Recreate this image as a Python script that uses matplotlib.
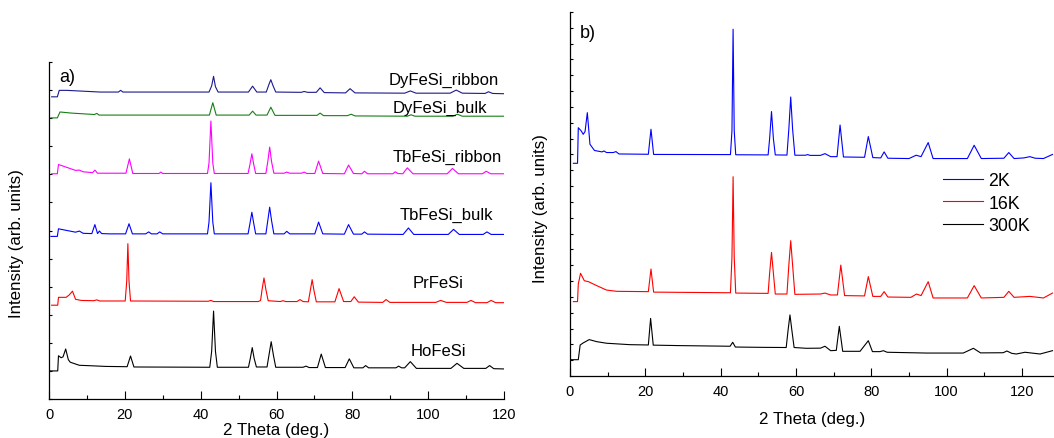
import matplotlib
matplotlib.use("Agg")
import matplotlib.pyplot as plt
from matplotlib.ticker import MultipleLocator
import numpy as np

plt.rcParams['font.family'] = ['Liberation Sans', 'DejaVu Sans']

# %% Data, (2theta, stacked intensity)
dy_ribbon = [(0.7, 10.76), (2.2, 10.76), (2.7, 10.99), (4.7, 10.99), (13.5, 10.93), (18.3, 10.93), (18.9, 10.99),
             (19.5, 10.93), (30, 10.93), (42.2, 10.93), (42.9, 11.15), (43.4, 11.49), (43.9, 11.12), (44.6, 10.93),
             (52.6, 10.93), (53.7, 11.14), (54.8, 10.93), (57.3, 10.93), (58.0, 11.2), (58.5, 11.37), (59.1, 11.15),
             (59.8, 10.93), (66.5, 10.92), (67.3, 10.95), (68.2, 10.92),
             (70.5, 10.92), (71.5, 11.08), (72.6, 10.91), (78.2, 10.90), (79.4, 11.05), (80.7, 10.90), (93.8, 10.89),
             (95.3, 10.97), (96.8, 10.89), (105.8, 10.89), (107.4, 11.00), (109.0, 10.89), (115.0, 10.88),
             (115.9, 10.94), (117.0, 10.88), (120, 10.87)]

dy_bulk = [(0.5, 10.01), (2.2, 10.01), (2.9, 10.22), (6, 10.18), (12, 10.13), (12.6, 10.17), (13.2, 10.11),
           (42.3, 10.11), (43.2, 10.55), (44.1, 10.11), (52.8, 10.11), (53.7, 10.25), (54.6, 10.11), (57.5, 10.11),
           (58.5, 10.39), (59.6, 10.10), (70.7, 10.10), (71.5, 10.18), (72.4, 10.09), (78.7, 10.09), (79.7, 10.14),
           (80.7, 10.08), (94.5, 10.07), (95.5, 10.12), (96.5, 10.07), (106.5, 10.07), (107.7, 10.14),
           (109, 10.07), (120, 10.07)]

tb_ribbon = [(0.7, 8.02), (2.2, 8.02), (2.5, 8.35), (7.0, 8.14), (8.0, 8.15), (9.0, 8.09), (11.5, 8.06), (12.1, 8.15),
             (12.8, 8.04), (20.3, 8.04), (21.2, 8.55), (22.1, 8.03), (29, 8.03), (29.5, 8.08), (30, 8.03), (41.8, 8.03),
             (42.2, 8.4), (42.7, 9.90), (43.2, 8.4), (43.6, 8.03), (52.5, 8.03), (53.0, 8.35), (53.5, 8.73),
             (54.0, 8.35), (54.5, 8.03), (57.2, 8.03), (57.7, 8.45), (58.2, 8.97), (58.7, 8.45),
             (59.3, 8.04), (62.0, 8.04), (62.7, 8.08), (63.5, 8.04), (66.6, 8.04), (67.3, 8.08), (68, 8.03),
             (70.1, 8.03), (71.1, 8.47), (72.2, 8.03), (77.9, 8.02), (79.0, 8.33), (80.3, 8.03), (82.5, 8.02),
             (83.2, 8.11), (84.0, 8.02), (90.7, 8.02), (91.3, 8.09), (92.0, 8.03), (93.3, 8.02), (94.5, 8.23),
             (96.0, 8.02), (105.0, 8.02), (106.4, 8.21), (108.0, 8.02), (114.3, 8.02), (115.3, 8.11), (116.5, 8.02),
             (120, 8.02)]

tb_bulk = [(0.5, 5.79), (2.2, 5.79), (2.5, 6.06), (7.0, 5.94), (8.0, 5.98), (9.0, 5.90), (11.3, 5.89), (12.1, 6.21),
           (12.8, 5.89), (13.3, 5.98), (13.9, 5.89), (16, 5.88), (20.2, 5.88), (21.1, 6.24), (22.0, 5.88),
           (25.5, 5.88), (26.3, 5.95), (27, 5.88), (28.5, 5.88), (29.2, 5.95), (30, 5.88), (41.8, 5.88),
           (42.2, 6.3), (42.7, 7.70), (43.2, 6.3), (43.6, 5.88), (52.5, 5.88), (53.0, 6.25), (53.5, 6.65),
           (54.0, 6.25), (54.5, 5.88), (57.2, 5.88), (57.7, 6.35), (58.2, 6.83), (58.7, 6.35),
           (59.3, 5.88), (62.0, 5.88), (62.7, 5.97), (63.5, 5.88), (70.1, 5.88), (71.1, 6.30), (72.2, 5.88),
           (77.9, 5.87), (79.0, 6.21), (80.3, 5.87), (82.5, 5.87), (83.2, 5.95), (84.0, 5.87), (93.4, 5.86),
           (94.8, 6.09), (96.2, 5.86), (105.3, 5.86), (106.7, 6.04), (108.2, 5.86), (114.5, 5.86), (115.5, 5.95),
           (116.6, 5.86), (120, 5.86)]

pr = [(0.7, 3.34), (2.3, 3.34), (2.5, 3.62), (4.5, 3.62), (5.3, 3.70), (6.2, 3.84), (7.0, 3.55), (8.5, 3.51),
      (11.8, 3.50), (12.6, 3.53), (13.4, 3.49), (20.1, 3.49), (20.5, 4.2), (20.8, 5.53), (21.1, 4.2), (21.5, 3.49),
      (42, 3.48), (42.7, 3.51), (43.4, 3.47), (55.2, 3.47), (55.8, 3.51), (56.2, 3.9), (56.7, 4.31), (57.2, 3.9),
      (57.8, 3.50), (61, 3.47), (61.7, 3.50), (62.4, 3.47),
      (65.4, 3.47), (66.2, 3.54), (67.0, 3.47), (68.4, 3.46), (68.9, 3.85), (69.4, 4.25), (69.9, 3.85),
      (70.5, 3.46), (75.4, 3.46), (76.5, 3.93), (77.7, 3.47), (79.6, 3.47), (80.5, 3.64), (81.6, 3.45), (88.0, 3.44),
      (88.9, 3.54), (89.9, 3.44), (102, 3.44),
      (103.3, 3.51), (104.8, 3.44), (110.2, 3.44), (111.3, 3.51), (112.5, 3.43), (115.5, 3.43), (116.6, 3.51),
      (117.8, 3.43), (120, 3.43)]

ho = [(0.3, 1.0), (2.3, 1.0), (2.5, 1.54), (3.2, 1.47), (3.7, 1.50), (4.4, 1.78), (5.1, 1.40), (5.6, 1.31), (8, 1.20),
      (10, 1.19), (15, 1.16), (20.6, 1.15), (21.5, 1.53), (22.4, 1.14), (42.4, 1.13), (42.9, 1.7), (43.4, 3.13),
      (43.9, 1.7), (44.4, 1.13), (52.6, 1.13), (53.1, 1.45), (53.6, 1.83), (54.1, 1.45), (54.7, 1.14), (57.5, 1.14),
      (58.0, 1.55), (58.6, 2.04), (59.2, 1.55), (59.8, 1.13), (67, 1.13), (67.8, 1.17),
      (68.6, 1.12), (70.8, 1.12), (71.8, 1.60), (72.9, 1.12), (78.1, 1.12), (79.2, 1.43), (80.4, 1.11), (82.8, 1.11),
      (83.5, 1.19), (84.3, 1.11), (91.5, 1.11), (92.2, 1.17), (93, 1.11), (93.8, 1.11), (95.3, 1.33), (96.9, 1.09),
      (106.0, 1.09), (107.6, 1.27), (109.4, 1.09), (115.2, 1.09), (116.2, 1.19), (117.3, 1.08), (120, 1.07)]

t2K = [(0.9, 13.44), (2.0, 13.44), (2.2, 15.69), (3.0, 15.48), (3.5, 15.27), (4.0, 15.45), (4.6, 16.64), (5.3, 14.64),
       (6.5, 14.25), (8.5, 14.16), (9.0, 14.22), (9.7, 14.12), (11.5, 14.12), (12.2, 14.18), (13, 14.03), (20.8, 14.01),
       (21.5, 15.59), (22.2, 14.0), (42.6, 13.99), (43.0, 15.5), (43.3, 21.91), (43.6, 15.5), (44.0, 13.98),
       (52.6, 13.97), (53.0, 15.0), (53.5, 16.71), (54.0, 15.0), (54.5, 13.97), (57.6, 13.96), (58.1, 15.6),
       (58.6, 17.63), (59.1, 15.6), (59.7, 13.95), (62.5, 13.95), (63.1, 13.99), (63.7, 13.94),
       (66.5, 13.94), (67.7, 14.05), (69.2, 13.86), (70.9, 13.86), (71.7, 15.86), (72.6, 13.84), (78.2, 13.82),
       (79.2, 15.13), (80.4, 13.8), (82.5, 13.78), (83.4, 14.16), (84.4, 13.76), (90, 13.74), (91.9, 13.95),
       (93.2, 13.86), (95.1, 14.75), (96.4, 13.74), (105.5, 13.74), (107.3, 14.58), (109.2, 13.74), (115.2, 13.76),
       (116.5, 14.12), (117.9, 13.74), (120.5, 13.78), (122.1, 13.86), (123.5, 13.76), (125.7, 13.74), (128.1, 14.0)]

t16K = [(0.9, 4.70), (2.0, 4.70), (2.2, 5.81), (2.8, 6.49), (3.8, 6.02), (4.9, 5.96), (7.1, 5.71), (9.7, 5.43),
        (12.4, 5.35), (20.8, 5.33), (21.5, 6.76), (22.2, 5.30), (42.6, 5.26), (43.0, 7.5), (43.3, 12.59),
        (43.6, 7.5), (44.0, 5.24), (52.6, 5.22), (53.0, 6.5), (53.5, 7.81), (54.0, 6.5), (54.5, 5.18), (57.6, 5.18),
        (58.1, 7.0), (58.6, 8.55), (59.1, 7.0), (59.7, 5.16), (66.5, 5.18),
        (67.7, 5.24), (69.2, 5.12), (71.0, 5.12), (71.9, 7.01), (72.9, 5.08), (78.2, 5.06), (79.2, 6.28),
        (80.4, 5.03), (82.5, 5.03), (83.4, 5.33), (84.4, 4.99), (90.5, 4.97), (92.0, 5.18), (93.2, 5.08),
        (95.1, 5.96), (96.4, 4.93), (105.5, 4.93), (107.3, 5.71), (109.2, 4.93), (115.2, 4.97), (116.5, 5.35),
        (117.9, 4.97), (122.1, 5.03), (125.7, 4.93), (128.1, 5.24)]

t300K = [(0.2, 1.03), (2.2, 1.03), (2.7, 1.96), (3.5, 2.09), (5.1, 2.30), (7.1, 2.17), (9.7, 2.07), (15.9, 1.98),
         (20.8, 1.96), (21.4, 3.64), (22.1, 1.95), (29.2, 1.92), (42.5, 1.88), (43.2, 2.13), (43.9, 1.83),
         (51.3, 1.81), (57.4, 1.80), (57.9, 2.9), (58.4, 3.86), (58.9, 2.9), (59.5, 1.80), (62.8, 1.75),
         (66.5, 1.76), (67.7, 1.88),
         (69.2, 1.60), (70.7, 1.62), (71.5, 3.14), (72.4, 1.56), (77.0, 1.56), (79.2, 2.23), (80.3, 1.54),
         (82.3, 1.54), (83.2, 1.60), (84.2, 1.50), (94.7, 1.45), (104.4, 1.45), (107.1, 1.75), (109.0, 1.46),
         (115.0, 1.47), (116.0, 1.58), (117.3, 1.43), (118.5, 1.39), (120.8, 1.50), (124.8, 1.39), (128.1, 1.60)]

left_series = [dy_ribbon, dy_bulk, tb_ribbon, tb_bulk, pr, ho]
left_names = ['DyFeSi_ribbon', 'DyFeSi_bulk', 'TbFeSi_ribbon', 'TbFeSi_bulk', 'PrFeSi', 'HoFeSi']
left_colors = ['#1a1a8c', '#158015', '#ff00ff', '#0000ff', '#ff0000', '#000000']
# label anchor (right edge x, centre y)
left_label_pos = [(118.6, 11.38), (115.5, 10.39), (119.4, 8.65), (117.0, 6.59), (109.3, 4.14), (110.0, 1.71)]

right_series = [t2K, t16K, t300K]
right_names = ['2K', '16K', '300K']
right_colors = ['#0000ff', '#ff0000', '#000000']

# %% Figure
fig = plt.figure(figsize=(10.54, 4.39), dpi=100)
axa = fig.add_axes([49/1054, 39/439, 455/1054, 337/439])
axb = fig.add_axes([570/1054, 62/439, 484/1054, 364/439])


def style(ax, ymax, xmax):
    ax.spines['top'].set_visible(False)
    ax.spines['right'].set_visible(False)
    ax.set_xlim(0, xmax)
    ax.set_ylim(0, ymax)
    ax.xaxis.set_major_locator(MultipleLocator(20))
    ax.xaxis.set_minor_locator(MultipleLocator(10))
    ax.yaxis.set_major_locator(MultipleLocator(1))
    ax.tick_params(axis='x', which='major', direction='in', length=5.5, width=0.8, labelsize=10.5, pad=6)
    ax.tick_params(axis='x', which='minor', direction='in', length=2.7, width=0.8)
    ax.tick_params(axis='y', which='major', direction='in', length=2, width=0.8, labelleft=False)
    for s in ['left', 'bottom']:
        ax.spines[s].set_linewidth(0.9)


style(axa, 12, 120)
style(axb, 23, 128.5)

for data, col, name, (lx, ly) in zip(left_series, left_colors, left_names, left_label_pos):
    arr = np.array(data)
    axa.plot(arr[:, 0], arr[:, 1], color=col, lw=0.8)
    axa.text(lx, ly, name, ha='right', va='center', fontsize=12)

axa.text(2.7, 11.5, 'a)', ha='left', va='center', fontsize=13)
axa.set_xlabel('2 Theta (deg.)', fontsize=12.2, labelpad=0.5)
axa.set_ylabel('Intensity (arb. units)', fontsize=12.2)
axa.yaxis.set_label_coords(-0.055, 0.463)

for data, col, name in zip(right_series, right_colors, right_names):
    arr = np.array(data)
    axb.plot(arr[:, 0], arr[:, 1], color=col, lw=0.8, label=name)

axb.text(2.5, 21.7, 'b)', ha='left', va='center', fontsize=13)
axb.set_xlabel('2 Theta (deg.)', fontsize=12.2, labelpad=9)
axb.set_ylabel('Intensity (arb. units)', fontsize=12.2)
axb.yaxis.set_label_coords(-0.0455, 0.464)
axb.legend(loc='center left', bbox_to_anchor=(0.771, 0.475), frameon=False, fontsize=12.8,
           handlelength=2.25, handletextpad=0.3, labelspacing=0.3, borderpad=0, borderaxespad=0)

fig.savefig('out.png', dpi=100)
